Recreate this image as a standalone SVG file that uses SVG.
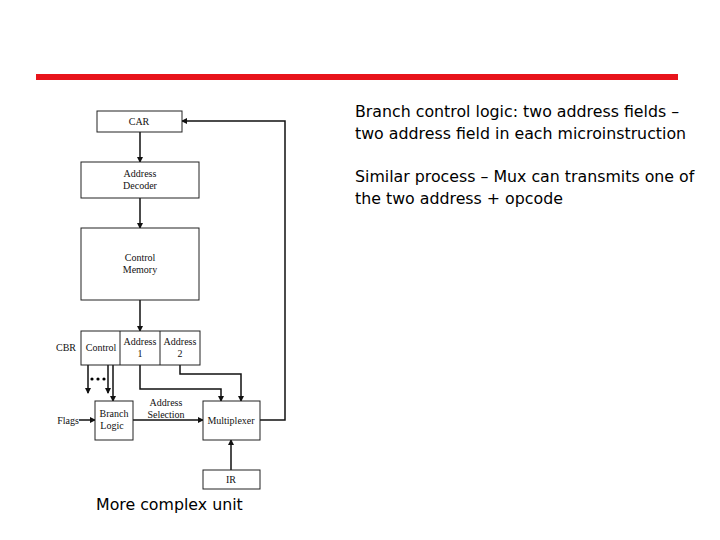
<svg xmlns="http://www.w3.org/2000/svg" width="720" height="540" viewBox="0 0 720 540">
<style>
.b{fill:#fff;stroke:#222;stroke-width:1}
.s{font-family:"Liberation Serif",serif;font-size:10px;fill:#111;text-anchor:middle}
.l{fill:none;stroke:#111;stroke-width:1.5}
.t{font-family:"DejaVu Sans",sans-serif;font-size:15.8px;fill:#000}
</style>
<defs><marker id="a" markerWidth="6" markerHeight="6" refX="5" refY="3" orient="auto" markerUnits="userSpaceOnUse"><path d="M0,0L6,3L0,6z" fill="#111"/></marker></defs>
<rect width="720" height="540" fill="#fff"/>
<rect x="36" y="74" width="642" height="6" fill="#e8141b"/>
<g id="connectors">
<path class="l" d="M140,132V162" marker-end="url(#a)"/>
<path class="l" d="M140,198V228" marker-end="url(#a)"/>
<path class="l" d="M140,300V331" marker-end="url(#a)"/>
<path class="l" d="M88,365V393" marker-end="url(#a)"/>
<path class="l" d="M108,365V393" marker-end="url(#a)"/>
<path class="l" d="M113,365V401" marker-end="url(#a)"/>
<path class="l" d="M140,365V389H221V401" marker-end="url(#a)"/>
<path class="l" d="M180,365V374H241V401" marker-end="url(#a)"/>
<path class="l" d="M133,420H203" marker-end="url(#a)"/>
<path class="l" d="M79,420H95" marker-end="url(#a)"/>
<path class="l" d="M231,470V440" marker-end="url(#a)"/>
<path class="l" d="M260,420H285V121H182" marker-end="url(#a)"/>
<circle cx="92" cy="379" r="1.6"/><circle cx="98" cy="379" r="1.6"/><circle cx="104" cy="379" r="1.6"/>
</g>
<g id="car"><rect class="b" x="97" y="111" width="85" height="21"/><text class="s" x="139" y="125">CAR</text></g>
<g id="decoder"><rect class="b" x="81" y="162" width="118" height="36"/><text class="s" x="140" y="177">Address</text><text class="s" x="140" y="189">Decoder</text></g>
<g id="memory"><rect class="b" x="81" y="228" width="118" height="72"/><text class="s" x="140" y="261">Control</text><text class="s" x="140" y="273">Memory</text></g>
<g id="cbr"><rect class="b" x="81" y="331" width="119" height="34"/><line x1="120" y1="331" x2="120" y2="365" stroke="#222"/><line x1="160" y1="331" x2="160" y2="365" stroke="#222"/>
<text class="s" x="66" y="351">CBR</text><text class="s" x="101" y="351">Control</text><text class="s" x="140" y="345">Address</text><text class="s" x="140" y="357">1</text><text class="s" x="180" y="345">Address</text><text class="s" x="180" y="357">2</text></g>
<g id="branch"><rect class="b" x="95" y="401" width="38" height="39"/><text class="s" x="114" y="417">Branch</text><text class="s" x="112" y="429">Logic</text><text class="s" x="68" y="424">Flags</text><text class="s" x="166" y="406">Address</text><text class="s" x="166" y="418">Selection</text></g>
<g id="mux"><rect class="b" x="203" y="401" width="57" height="39"/><text class="s" x="231" y="424">Multiplexer</text></g>
<g id="ir"><rect class="b" x="203" y="470" width="57" height="19"/><text class="s" x="231" y="483">IR</text></g>
<text class="t" x="96" y="510" font-size="16.5">More complex unit</text>
<text class="t" x="355" y="117">Branch control logic: two address fields –</text>
<text class="t" x="355" y="139">two address field in each microinstruction</text>
<text class="t" x="355" y="182">Similar process – Mux can transmits one of</text>
<text class="t" x="355" y="204">the two address + opcode</text>
</svg>
